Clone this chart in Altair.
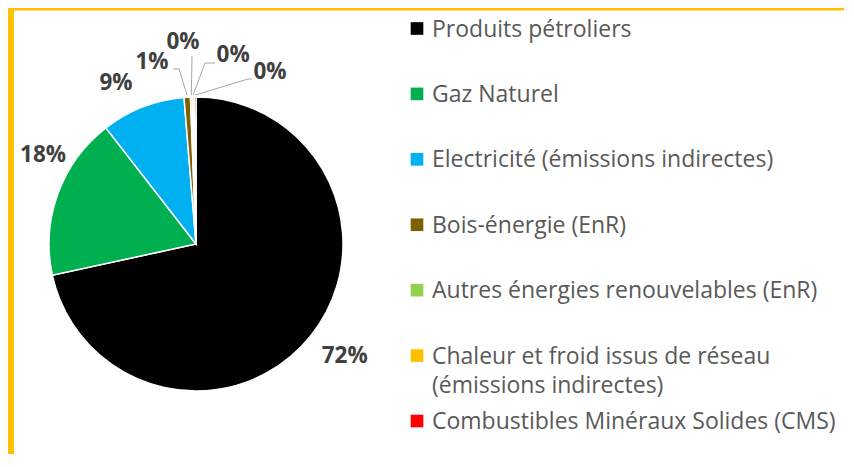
import math
import altair as alt
import pandas as pd

# ---------------- data ----------------
categories = [
    "Produits pétroliers",
    "Gaz Naturel",
    "Electricité (émissions indirectes)",
    "Bois-énergie (EnR)",
    "Autres énergies renouvelables (EnR)",
    "Chaleur et froid issus de réseau (émissions indirectes)",
    "Combustibles Minéraux Solides (CMS)",
]
legend_labels = [
    "Produits pétroliers",
    "Gaz Naturel",
    "Electricité (émissions indirectes)",
    "Bois-énergie (EnR)",
    "Autres énergies renouvelables (EnR)",
    "Chaleur et froid issus de réseau\n(émissions indirectes)",
    "Combustibles Minéraux Solides (CMS)",
]
values = [71.6, 17.9, 9.2, 0.7, 0.2, 0.2, 0.2]
colors = ["#000000", "#00B050", "#00B0F0", "#7F6000", "#92D050", "#FFC000", "#FF0000"]

# ---------------- layout ----------------
W, H = 836, 446
CX, CY, R = 188, 236, 147
# label placement (best fit as in the original): angle (deg, clockwise from top), radius (px)
label_place = [(126.9, 186), (300.2, 177), (333.6, 180), (346.4, 187),
               (356.3, 202), (11.1, 193), (23.3, 187)]
# leader lines: label-side points for the small slices
leader_pts = {
    3: [(171, 61), (165, 61)],
    4: [(184, 48)],
    5: [(197, 55), (207, 55)],
    6: [(240, 71), (244, 71)],
}
LEG_TOP, LEG_BOTTOM = 20.5, 413
LEG_MARK_X, LEG_TEXT_X = 409, 424

# ---------------- derived tables ----------------
total = sum(values)
rows, lab_rows, lead_rows = [], [], []
cum = 0.0
for i, (c, v) in enumerate(zip(categories, values)):
    start = cum / total
    cum += v
    end = cum / total
    mid = (start + end) / 2 * 2 * math.pi
    rows.append({"idx": i, "category": c, "value": v, "legend": legend_labels[i]})
    a, r = label_place[i]
    a = math.radians(a)
    lab_rows.append({"idx": i, "label": f"{round(v / total * 100):.0f}%",
                     "lx": CX + r * math.sin(a), "ly": CY - r * math.cos(a)})
    if i in leader_pts:
        pts = [(CX + (R + 2) * math.sin(mid), CY - (R + 2) * math.cos(mid))] + leader_pts[i]
        for k, (px, py) in enumerate(pts):
            lead_rows.append({"idx": i, "pt": k, "x": px, "y": py})

df = pd.DataFrame(rows)
df_lab = pd.DataFrame(lab_rows)
df_lead = pd.DataFrame(lead_rows)

color_scale = alt.Scale(domain=categories, range=colors)

pie = alt.Chart(df).mark_arc(radius=R, stroke="white", strokeWidth=1.5).encode(
    theta=alt.Theta("value:Q", stack=True),
    order=alt.Order("idx:Q"),
    color=alt.Color("category:N", scale=color_scale, legend=None),
    x=alt.value(CX),
    y=alt.value(CY),
)

leaders = alt.Chart(df_lead).mark_line(color="#A6A6A6", strokeWidth=1).encode(
    x=alt.X("x:Q", scale=None),
    y=alt.Y("y:Q", scale=None),
    detail="idx:N",
    order="pt:Q",
)

labels = alt.Chart(df_lab).mark_text(
    font="Open Sans", fontWeight="bold", fontSize=22.5, color="#404040",
    align="center", baseline="middle",
).encode(
    x=alt.X("lx:Q", scale=None),
    y=alt.Y("ly:Q", scale=None),
    text="label:N",
)

leg_y = alt.Y("category:N", sort=categories, axis=None,
              scale=alt.Scale(type="point", range=[LEG_TOP, LEG_BOTTOM], padding=0))

leg_marks = alt.Chart(df).mark_square(size=160, opacity=1).encode(
    x=alt.value(LEG_MARK_X),
    y=leg_y,
    color=alt.Color("category:N", scale=color_scale, legend=None),
)

leg_text = alt.Chart(df).mark_text(
    font="Open Sans", fontSize=23, color="#595959", align="left",
    baseline="alphabetic", dy=8, lineBreak="\n", lineHeight=29,
).encode(
    x=alt.value(LEG_TEXT_X),
    y=leg_y,
    text="legend:N",
)

frame_data = alt.Data(values=[{"f": 1}])
frame_left = alt.Chart(frame_data).mark_rect(color="#FFC000").encode(
    x=alt.value(0), x2=alt.value(6), y=alt.value(0), y2=alt.value(H))
frame_top = alt.Chart(frame_data).mark_rect(color="#FFC000").encode(
    x=alt.value(0), x2=alt.value(W), y=alt.value(0), y2=alt.value(2.5))

chart = alt.layer(
    pie, leaders, labels, leg_marks, leg_text, frame_left, frame_top
).resolve_scale(
    x="independent", y="independent"
).properties(
    width=W, height=H, padding=0, autosize=alt.AutoSizeParams(type="none"),
    background="white",
).configure_view(stroke=None)

chart.save("out.html", embed_options={"renderer": "svg", "actions": False})
